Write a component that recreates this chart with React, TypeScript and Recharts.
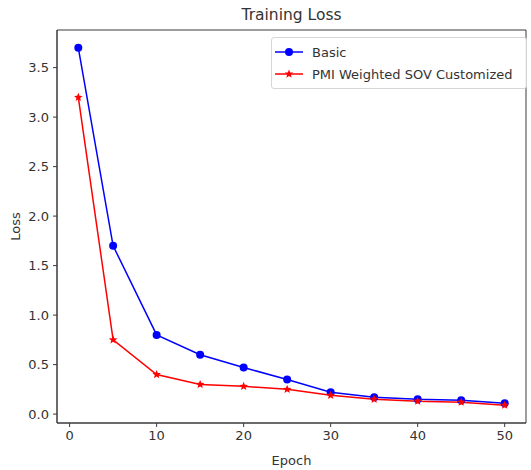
import { LineChart, Line, XAxis, YAxis, Legend, ReferenceArea } from 'recharts';

const epochs = [1, 5, 10, 15, 20, 25, 30, 35, 40, 45, 50];
const basicLoss = [3.7, 1.7, 0.8, 0.6, 0.47, 0.35, 0.22, 0.17, 0.15, 0.14, 0.11];
const pmiLoss = [3.2, 0.75, 0.4, 0.3, 0.28, 0.25, 0.19, 0.15, 0.13, 0.12, 0.09];
const xTicks = [0, 10, 20, 30, 40, 50];
const yTicks = [0, 0.5, 1, 1.5, 2, 2.5, 3, 3.5];

// matplotlib-style 5% padding around the data range
const xDomain: [number, number] = [-1.45, 52.45];
const yDomain: [number, number] = [-0.09, 3.88];

const data = epochs.map((epoch, i) => ({ epoch, basic: basicLoss[i], pmi: pmiLoss[i] }));

const FONT = '"DejaVu Sans", sans-serif';
const AXIS = '#3a3a3a';
const BLUE = '#0000ff';
const RED = '#ff0000';

function starPoints(cx: number, cy: number, outer: number, inner: number) {
  const pts: string[] = [];
  for (let i = 0; i < 10; i++) {
    const r = i % 2 === 0 ? outer : inner;
    const a = -Math.PI / 2 + (i * Math.PI) / 5;
    pts.push(`${cx + r * Math.cos(a)},${cy + r * Math.sin(a)}`);
  }
  return pts.join(' ');
}

function StarDot(props: any) {
  const { cx, cy, index } = props;
  if (cx == null || cy == null) return null;
  return <polygon key={`star-${index}`} points={starPoints(cx, cy, 4.5, 2)} fill={RED} />;
}

const legendItems = [
  { name: 'Basic', color: BLUE, marker: 'circle' },
  { name: 'PMI Weighted SOV Customized', color: RED, marker: 'star' },
];

const renderLegend = () => (
  <div
    style={{
      border: '1px solid #d6d6d6',
      borderRadius: 3,
      background: 'rgba(255,255,255,0.85)',
      padding: '3px 14px 3px 2px',
      fontFamily: FONT,
      fontSize: 13,
      color: '#333',
    }}
  >
    {legendItems.map((s) => (
      <div key={s.name} style={{ display: 'flex', alignItems: 'center', height: 22 }}>
        <svg width={30} height={12}>
          <line x1={1} y1={6} x2={29} y2={6} stroke={s.color} strokeWidth={1.5} />
          {s.marker === 'circle' ? (
            <circle cx={15} cy={6} r={4} fill={s.color} />
          ) : (
            <polygon points={starPoints(15, 6, 4.5, 2)} fill={s.color} />
          )}
        </svg>
        <span style={{ marginLeft: 8 }}>{s.name}</span>
      </div>
    ))}
  </div>
);

const tickStyle = { fontSize: 13, fill: '#333', fontFamily: FONT };

export default function App() {
  return (
    <div style={{ position: 'absolute', left: 0, top: 0, width: 531, height: 470, background: '#fff' }}>
      <div
        style={{
          position: 'absolute',
          left: 57,
          width: 469,
          top: 5,
          textAlign: 'center',
          fontFamily: FONT,
          fontSize: 15.5,
          lineHeight: '20px',
          color: '#333',
        }}
      >
        Training Loss
      </div>
      <LineChart width={531} height={470} data={data} margin={{ top: 30, right: 5, bottom: 0, left: 0 }}>
        <XAxis
          dataKey="epoch"
          type="number"
          domain={xDomain}
          ticks={xTicks}
          allowDataOverflow
          height={47}
          tick={tickStyle}
          tickSize={4}
          tickMargin={4}
          stroke={AXIS}
          label={{
            content: (p: any) => {
              const vb = p.viewBox || {};
              return (
                <text
                  x={vb.x + vb.width / 2}
                  y={vb.y + vb.height - 5}
                  textAnchor="middle"
                  fontFamily={FONT}
                  fontSize={13}
                  fill="#333"
                >
                  Epoch
                </text>
              );
            },
          }}
        />
        <YAxis
          type="number"
          domain={yDomain}
          ticks={yTicks}
          allowDataOverflow
          width={57}
          tick={tickStyle}
          tickSize={4}
          tickMargin={4}
          stroke={AXIS}
          tickFormatter={(v: number) => v.toFixed(1)}
          label={{
            content: (p: any) => {
              const vb = p.viewBox || {};
              const x = vb.x + 15;
              const y = vb.y + vb.height / 2;
              return (
                <text
                  x={x}
                  y={y}
                  transform={`rotate(-90 ${x} ${y})`}
                  textAnchor="middle"
                  dominantBaseline="central"
                  fontFamily={FONT}
                  fontSize={13}
                  fill="#333"
                >
                  Loss
                </text>
              );
            },
          }}
        />
        <ReferenceArea
          x1={xDomain[0]}
          x2={xDomain[1]}
          y1={yDomain[0]}
          y2={yDomain[1]}
          fill="none"
          stroke={AXIS}
          strokeWidth={1}
          ifOverflow="visible"
        />
        <Legend
          layout="vertical"
          align="center"
          verticalAlign="middle"
          content={renderLegend}
          wrapperStyle={{ top: 37, left: 271, width: 'auto', height: 'auto' }}
        />
        <Line
          dataKey="basic"
          name="Basic"
          type="linear"
          stroke={BLUE}
          strokeWidth={1.5}
          dot={{ r: 4, fill: BLUE, stroke: BLUE, strokeWidth: 0 }}
          activeDot={false}
          isAnimationActive={false}
        />
        <Line
          dataKey="pmi"
          name="PMI Weighted SOV Customized"
          type="linear"
          stroke={RED}
          strokeWidth={1.5}
          dot={<StarDot />}
          activeDot={false}
          isAnimationActive={false}
        />
      </LineChart>
    </div>
  );
}
